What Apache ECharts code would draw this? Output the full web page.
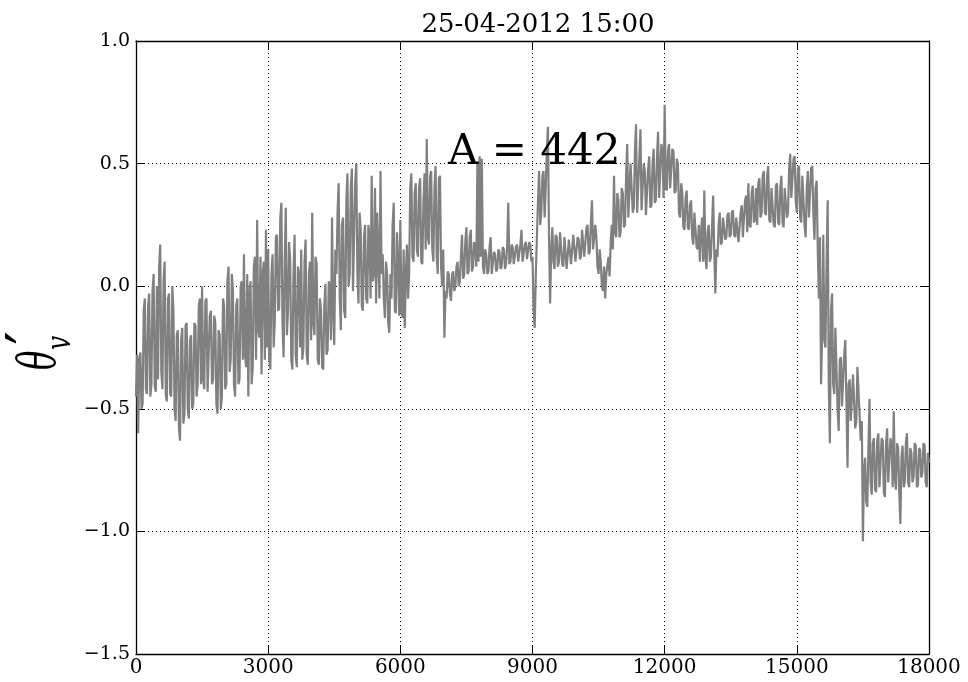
<!DOCTYPE html>
<html>
<head>
<meta charset="utf-8">
<script src="https://cdn.jsdelivr.net/npm/echarts@6/dist/echarts.min.js"></script>
<style>
  html, body { margin: 0; padding: 0; background: #fff; }
  #chart { width: 968px; height: 682px; }
</style>
</head>
<body>
<div id="chart"></div>
<script>
// Sample spacing (time steps) of the theta_v' record
const sampleStep = 25;

// theta_v' samples, one block per 3000 steps
const block0 = [
  -0.45, -0.28, -0.60, -0.30, -0.27, -0.50, -0.48, -0.10, -0.05, -0.42,
  -0.44, -0.08, -0.03, -0.45, -0.40, -0.02, 0.05, -0.41, -0.43, 0.00,
  -0.38, 0.08, 0.17, -0.35, -0.42, 0.02, 0.10, -0.44, -0.47, -0.05,
  -0.03, -0.44, -0.45, 0.00, -0.10, -0.50, -0.55, -0.20, -0.18, -0.58,
  -0.63, -0.22, -0.17, -0.56, -0.52, -0.16, -0.15, -0.50, -0.54, -0.22,
  -0.20, -0.50, -0.48, -0.15, -0.16, -0.45, -0.40, -0.08, -0.05, -0.40,
  0.00, -0.38, -0.42, -0.06, -0.05, -0.43, -0.43, -0.12, -0.10, -0.40,
  -0.38, -0.12, -0.15, -0.48, -0.52, -0.18, -0.20, -0.50, -0.45, -0.05,
  -0.08, -0.42, -0.40, 0.02, 0.08, -0.35, -0.30, 0.05, -0.02, -0.40,
  -0.45, -0.08, -0.05, -0.40, -0.38, 0.00, 0.02, -0.30, 0.13, -0.28,
  -0.33, 0.05, -0.45, -0.02, 0.02, -0.40, -0.33, 0.08, 0.12, -0.30,
  0.27, -0.18, -0.21, 0.12, -0.36, 0.05, 0.10, -0.30, 0.23, -0.25
];
const block1 = [
  0.15, -0.30, -0.34, 0.05, 0.13, -0.25, -0.14, 0.20, 0.21, -0.10,
  -0.09, 0.28, 0.34, -0.15, -0.29, 0.10, 0.32, -0.20, -0.10, 0.18,
  0.10, -0.30, -0.34, 0.05, 0.21, -0.28, -0.33, 0.08, 0.05, -0.25,
  0.15, -0.30, -0.25, 0.10, 0.19, -0.28, -0.32, 0.05, 0.10, -0.22,
  0.30, -0.15, -0.20, 0.12, 0.09, -0.30, -0.32, -0.05, -0.10, -0.33,
  -0.34, -0.08, 0.01, -0.28, -0.26, 0.02, 0.00, -0.22, 0.28, -0.10,
  -0.24, 0.15, 0.05, 0.30, 0.42, -0.05, -0.18, 0.25, 0.28, -0.10,
  -0.13, 0.35, 0.46, 0.00, 0.05, 0.40, 0.48, -0.02, -0.02, 0.42,
  0.50, 0.05, -0.07, 0.30, 0.23, -0.08, -0.10, 0.20, 0.25, -0.05,
  -0.07, 0.25, 0.20, -0.05, 0.45, 0.02, 0.05, 0.40, -0.07, 0.30,
  0.30, -0.05, 0.47, 0.05, 0.13, -0.05, -0.13, 0.10, 0.05, -0.15,
  -0.19, 0.05, -0.05, 0.25, 0.34, -0.10, -0.11, 0.22, 0.10, -0.12
];
const block2 = [
  0.27, -0.10, -0.13, 0.15, -0.17, 0.05, 0.17, -0.05, 0.05, 0.40,
  0.46, 0.12, 0.10, 0.38, 0.42, 0.15, 0.12, 0.40, 0.44, 0.10,
  0.09, 0.35, 0.46, 0.15, 0.60, 0.20, 0.17, 0.45, 0.47, 0.15,
  0.10, 0.40, 0.49, 0.12, 0.05, 0.44, 0.45, 0.08, 0.00, 0.15,
  -0.21, -0.02, -0.05, 0.06, 0.05, -0.03, -0.06, 0.05, 0.06, -0.02,
  0.00, 0.08, 0.10, 0.00, 0.02, 0.12, 0.21, 0.03, 0.05, 0.18,
  0.24, 0.05, 0.06, 0.20, 0.23, 0.06, 0.08, 0.18, 0.16, 0.08,
  0.51, 0.10, 0.53, 0.12, 0.52, 0.08, 0.05, 0.15, 0.13, 0.05,
  0.06, 0.16, 0.20, 0.05, 0.05, 0.14, 0.13, 0.06, 0.07, 0.15,
  0.14, 0.07, 0.08, 0.16, 0.15, 0.07, 0.09, 0.16, 0.34, 0.09,
  0.10, 0.17, 0.16, 0.09, 0.09, 0.16, 0.17, 0.10, 0.10, 0.17,
  0.23, 0.10, 0.10, 0.17, 0.18, 0.11, 0.11, 0.18, 0.17, 0.10
];
const block3 = [
  0.12, -0.10, -0.17, 0.05, 0.20, 0.35, 0.47, 0.25, 0.30, 0.45,
  0.47, 0.28, 0.40, 0.55, 0.65, 0.20, -0.07, 0.15, 0.24, 0.10,
  0.07, 0.21, 0.20, 0.08, 0.10, 0.22, 0.22, 0.09, 0.08, 0.20,
  0.20, 0.07, 0.07, 0.19, 0.19, 0.09, 0.09, 0.21, 0.21, 0.10,
  0.10, 0.20, 0.19, 0.11, 0.12, 0.23, 0.23, 0.12, 0.12, 0.24,
  0.25, 0.13, 0.14, 0.26, 0.35, 0.15, 0.15, 0.25, 0.20, 0.08,
  0.05, 0.15, 0.10, 0.00, -0.02, 0.08, -0.05, 0.05, 0.05, 0.12,
  0.04, 0.18, 0.25, 0.15, 0.45, 0.22, 0.20, 0.38, 0.35, 0.20,
  0.22, 0.40, 0.38, 0.24, 0.25, 0.45, 0.58, 0.28, 0.28, 0.50,
  0.50, 0.30, 0.32, 0.55, 0.66, 0.30, 0.30, 0.52, 0.64, 0.31,
  0.31, 0.50, 0.47, 0.29, 0.29, 0.48, 0.53, 0.32, 0.33, 0.50,
  0.56, 0.34, 0.35, 0.52, 0.63, 0.36, 0.36, 0.58, 0.55, 0.36
];
const block4 = [
  0.74, 0.40, 0.39, 0.55, 0.58, 0.40, 0.40, 0.56, 0.55, 0.38,
  0.39, 0.52, 0.50, 0.30, 0.28, 0.42, 0.38, 0.24, 0.23, 0.36,
  0.39, 0.24, 0.23, 0.33, 0.35, 0.20, 0.17, 0.30, 0.30, 0.16,
  0.15, 0.25, 0.10, 0.22, 0.28, 0.10, 0.39, 0.12, 0.07, 0.22,
  0.25, 0.10, 0.12, 0.24, 0.37, 0.15, -0.03, 0.15, 0.12, 0.25,
  0.30, 0.17, 0.18, 0.28, 0.28, 0.19, 0.20, 0.29, 0.30, 0.20,
  0.21, 0.30, 0.31, 0.21, 0.20, 0.28, 0.28, 0.18, 0.18, 0.30,
  0.33, 0.20, 0.20, 0.35, 0.37, 0.22, 0.42, 0.25, 0.24, 0.38,
  0.41, 0.26, 0.27, 0.40, 0.25, 0.42, 0.44, 0.28, 0.30, 0.45,
  0.47, 0.30, 0.29, 0.45, 0.49, 0.27, 0.26, 0.40, 0.40, 0.25,
  0.24, 0.41, 0.42, 0.26, 0.25, 0.40, 0.45, 0.26, 0.24, 0.40,
  0.40, 0.28, 0.30, 0.48, 0.54, 0.36, 0.36, 0.52, 0.53, 0.35
];
const block5 = [
  0.30, 0.48, 0.49, 0.28, 0.26, 0.45, 0.45, 0.25, 0.20, 0.40,
  0.47, 0.28, 0.28, 0.48, 0.49, 0.30, 0.19, 0.40, 0.43, 0.15,
  -0.05, 0.20, -0.40, -0.20, 0.21, -0.22, -0.25, 0.10, 0.35, -0.40,
  -0.64, -0.10, -0.03, -0.40, -0.44, -0.17, -0.17, -0.50, -0.59, -0.30,
  -0.29, -0.49, -0.49, -0.28, -0.22, -0.46, -0.74, -0.40, -0.38, -0.55,
  -0.55, -0.36, -0.36, -0.58, -0.55, -0.33, -0.33, -0.53, -0.63, -0.55,
  -1.04, -0.75, -0.70, -0.88, -0.90, -0.66, -0.46, -0.80, -0.85, -0.64,
  -0.62, -0.83, -0.84, -0.63, -0.60, -0.82, -0.82, -0.62, -0.63, -0.84,
  -0.86, -0.64, -0.58, -0.80, -0.80, -0.62, -0.64, -0.82, -0.51, -0.78,
  -0.83, -0.64, -0.66, -0.84, -0.97, -0.70, -0.65, -0.82, -0.80, -0.64,
  -0.60, -0.80, -0.82, -0.66, -0.68, -0.80, -0.78, -0.64, -0.65, -0.82,
  -0.81, -0.66, -0.67, -0.78, -0.76, -0.64, -0.65, -0.80, -0.82, -0.68,
  -0.72
];

// Axis tick values
const xTicks = [0, 3000, 6000, 9000, 12000, 15000, 18000];
const yTicks = [-1.5, -1.0, -0.5, 0.0, 0.5, 1.0];

const titleText = '25-04-2012 15:00';
const annotationText = 'A = 442';

const thetaV = [].concat(block0, block1, block2, block3, block4, block5);
const seriesData = thetaV.map((v, i) => [i * sampleStep, v]);

const serif = '"DejaVu Serif", "Liberation Serif", serif';
const fmtY = v => (v < 0 ? '\u2212' : '') + Math.abs(v).toFixed(1);
const fmtX = v => String(Math.round(v));

const chart = echarts.init(document.getElementById('chart'), null, { renderer: 'canvas' });

const baseX = {
  type: 'value',
  min: xTicks[0],
  max: xTicks[xTicks.length - 1],
  interval: xTicks[1] - xTicks[0],
  axisLine: { show: true, onZero: false, lineStyle: { color: '#000', width: 1.3 } },
  axisTick: { show: true, inside: true, length: 8, lineStyle: { color: '#000', width: 1 } }
};
const baseY = {
  type: 'value',
  min: yTicks[0],
  max: yTicks[yTicks.length - 1],
  interval: yTicks[1] - yTicks[0],
  axisLine: { show: true, onZero: false, lineStyle: { color: '#000', width: 1.3 } },
  axisTick: { show: true, inside: true, length: 8, lineStyle: { color: '#000', width: 1 } }
};

chart.setOption({
  animation: false,
  backgroundColor: '#fff',
  title: [{
    text: titleText,
    left: 533, top: 7,
    textAlign: 'center',
    textStyle: { fontFamily: serif, fontWeight: 'normal', fontSize: 26, color: '#000' }
  }, {
    text: annotationText,
    left: 443, top: 127,
    textStyle: { fontFamily: serif, fontWeight: 'normal', fontSize: 42, color: '#000' }
  }],
  grid: { left: 136, right: 39, top: 41, bottom: 28, containLabel: false },
  xAxis: [
    Object.assign({}, baseX, {
      position: 'bottom',
      axisLabel: { show: true, margin: 4, fontFamily: serif, fontSize: 20, color: '#000', formatter: fmtX },
      splitLine: { show: true, lineStyle: { color: '#000', width: 1, type: [1, 3] } }
    }),
    Object.assign({}, baseX, {
      position: 'top',
      axisLabel: { show: false },
      splitLine: { show: false }
    })
  ],
  yAxis: [
    Object.assign({}, baseY, {
      position: 'left',
      axisLabel: { show: true, margin: 6, fontFamily: serif, fontSize: 19, color: '#000', formatter: fmtY },
      splitLine: { show: true, lineStyle: { color: '#000', width: 1, type: [1, 3] } }
    }),
    Object.assign({}, baseY, {
      position: 'right',
      axisLabel: { show: false },
      splitLine: { show: false }
    })
  ],
  // rotated axis title: theta prime with subscript v
  graphic: [{
    type: 'group',
    x: 46, y: 352,
    rotation: Math.PI / 2,
    children: [{
      type: 'text', x: -18, y: 21, scaleX: 0.62,
      style: { text: '\u03b8', font: 'italic 52px "DejaVu Serif"', fill: '#000', textVerticalAlign: 'bottom' }
    }, {
      type: 'text', x: 14, y: -13,
      style: { text: '\u2032', font: '60px "DejaVu Serif"', fill: '#000', textAlign: 'center', textVerticalAlign: 'middle' }
    }, {
      type: 'text', x: 2, y: 33, scaleX: 0.7,
      style: { text: 'v', font: 'italic 36px "DejaVu Serif"', fill: '#000', textVerticalAlign: 'bottom' }
    }]
  }],
  series: [{
    type: 'line',
    xAxisIndex: 0, yAxisIndex: 0,
    data: seriesData,
    showSymbol: false,
    symbol: 'none',
    lineStyle: { color: '#808080', width: 2.2 },
    z: 3
  }]
});
</script>
</body>
</html>
